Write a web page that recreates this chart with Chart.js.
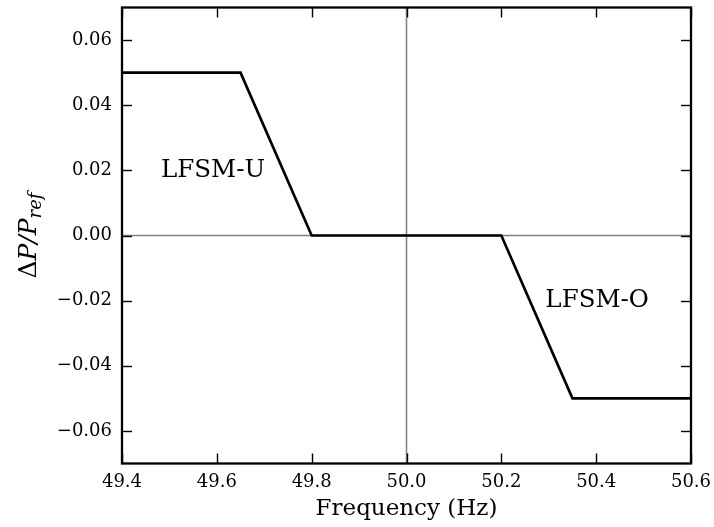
<!DOCTYPE html>
<html><head><meta charset="utf-8">
<script src="https://cdn.jsdelivr.net/npm/chart.js@4"></script>
<style>html,body{margin:0;padding:0;background:#fff}#wrap{width:714px;height:527px}</style>
</head><body><div id="wrap"><canvas id="c" width="714" height="527"></canvas></div>
<script>
const freq = [49.4, 49.65, 49.8, 50.2, 50.35, 50.6];
const dP = [0.05, 0.05, 0.0, 0.0, -0.05, -0.05];
const xTicks = [49.4, 49.6, 49.8, 50.0, 50.2, 50.4, 50.6];
const yTicks = [-0.06, -0.04, -0.02, 0.0, 0.02, 0.04, 0.06];
const xRange = [49.4, 50.6];
const yRange = [-0.07, 0.07];
const annotations = [
  {text: 'LFSM-U', x: 49.592, y: 0.02},
  {text: 'LFSM-O', x: 50.402, y: -0.02}
];
const xTitle = 'Frequency (Hz)';

const serif = '"DejaVu Serif", serif';
const fmt = s => s.replace('-', '\u2212');

const framePlugin = {
  id: 'frame',
  afterDatasetsDraw(chart) {
    const {ctx, chartArea: a, scales} = chart;
    ctx.save();
    ctx.strokeStyle = '#000';
    ctx.lineWidth = 1.4;
    const L = 10;
    xTicks.forEach(v => {
      const p = Math.round(scales.x.getPixelForValue(v)) + 0.5;
      ctx.beginPath(); ctx.moveTo(p, a.bottom); ctx.lineTo(p, a.bottom - L); ctx.stroke();
      ctx.beginPath(); ctx.moveTo(p, a.top); ctx.lineTo(p, a.top + L); ctx.stroke();
    });
    yTicks.forEach(v => {
      const p = Math.round(scales.y.getPixelForValue(v)) + 0.5;
      ctx.beginPath(); ctx.moveTo(a.left, p); ctx.lineTo(a.left + L, p); ctx.stroke();
      ctx.beginPath(); ctx.moveTo(a.right, p); ctx.lineTo(a.right - L, p); ctx.stroke();
    });
    ctx.lineWidth = 2.3;
    ctx.strokeRect(a.left, a.top, a.right - a.left, a.bottom - a.top);
    // annotations
    ctx.fillStyle = '#000';
    ctx.font = '24.5px ' + serif;
    ctx.textAlign = 'center';
    ctx.textBaseline = 'middle';
    annotations.forEach(t => {
      ctx.fillText(t.text, scales.x.getPixelForValue(t.x), scales.y.getPixelForValue(t.y));
    });
    // y title
    ctx.translate(28, (a.top + a.bottom) / 2);
    ctx.rotate(-Math.PI / 2);
    ctx.textBaseline = 'alphabetic';
    ctx.textAlign = 'left';
    const parts = [
      {t: '\u0394', f: '25px ' + serif, dy: 0},
      {t: 'P/P', f: 'italic 25px ' + serif, dy: 0},
      {t: 'ref', f: 'italic 18px ' + serif, dy: 5}
    ];
    let w = 0;
    parts.forEach(p => { ctx.font = p.f; p.w = ctx.measureText(p.t).width; w += p.w; });
    let x0 = -w / 2;
    parts.forEach(p => { ctx.font = p.f; ctx.fillText(p.t, x0, 8 + p.dy); x0 += p.w; });
    ctx.restore();
  }
};

new Chart(document.getElementById('c'), {
  type: 'scatter',
  data: {
    datasets: [
      {data: freq.map((f, i) => ({x: f, y: dP[i]})), showLine: true, borderColor: '#000', borderWidth: 2.7, pointRadius: 0, order: 0},
      {data: [{x: 50.0, y: yRange[0]}, {x: 50.0, y: yRange[1]}], showLine: true, borderColor: '#808080', borderWidth: 1.5, pointRadius: 0, order: 1},
      {data: [{x: xRange[0], y: 0}, {x: xRange[1], y: 0}], showLine: true, borderColor: '#808080', borderWidth: 1.5, pointRadius: 0, order: 1}
    ]
  },
  options: {
    responsive: false,
    animation: false,
    devicePixelRatio: 1,
    layout: {padding: {top: 7.5, right: 23, left: 0, bottom: 0}},
    plugins: {legend: {display: false}, tooltip: {enabled: false}},
    scales: {
      x: {
        type: 'linear', min: xRange[0], max: xRange[1],
        afterBuildTicks: s => { s.ticks = xTicks.map(v => ({value: v})); },
        afterFit: s => { s.height = 63.5; s.paddingLeft = 0; s.paddingRight = 0; },
        grid: {display: false, drawTicks: false},
        border: {display: false},
        ticks: {color: '#000', font: {family: serif, size: 18}, padding: 8, maxRotation: 0, callback: v => fmt(v.toFixed(1))},
        title: {display: true, text: xTitle, color: '#000', font: {family: serif, size: 23}, padding: {top: 0, bottom: 4}}
      },
      y: {
        type: 'linear', min: yRange[0], max: yRange[1],
        afterBuildTicks: s => { s.ticks = yTicks.map(v => ({value: v})); },
        afterFit: s => { s.width = 122; s.paddingTop = 0; s.paddingBottom = 0; },
        grid: {display: false, drawTicks: false},
        border: {display: false},
        ticks: {color: '#000', font: {family: serif, size: 18}, padding: 10, callback: v => fmt((Math.abs(v) < 1e-9 ? 0 : v).toFixed(2))}
      }
    }
  },
  plugins: [framePlugin]
});
</script></body></html>
